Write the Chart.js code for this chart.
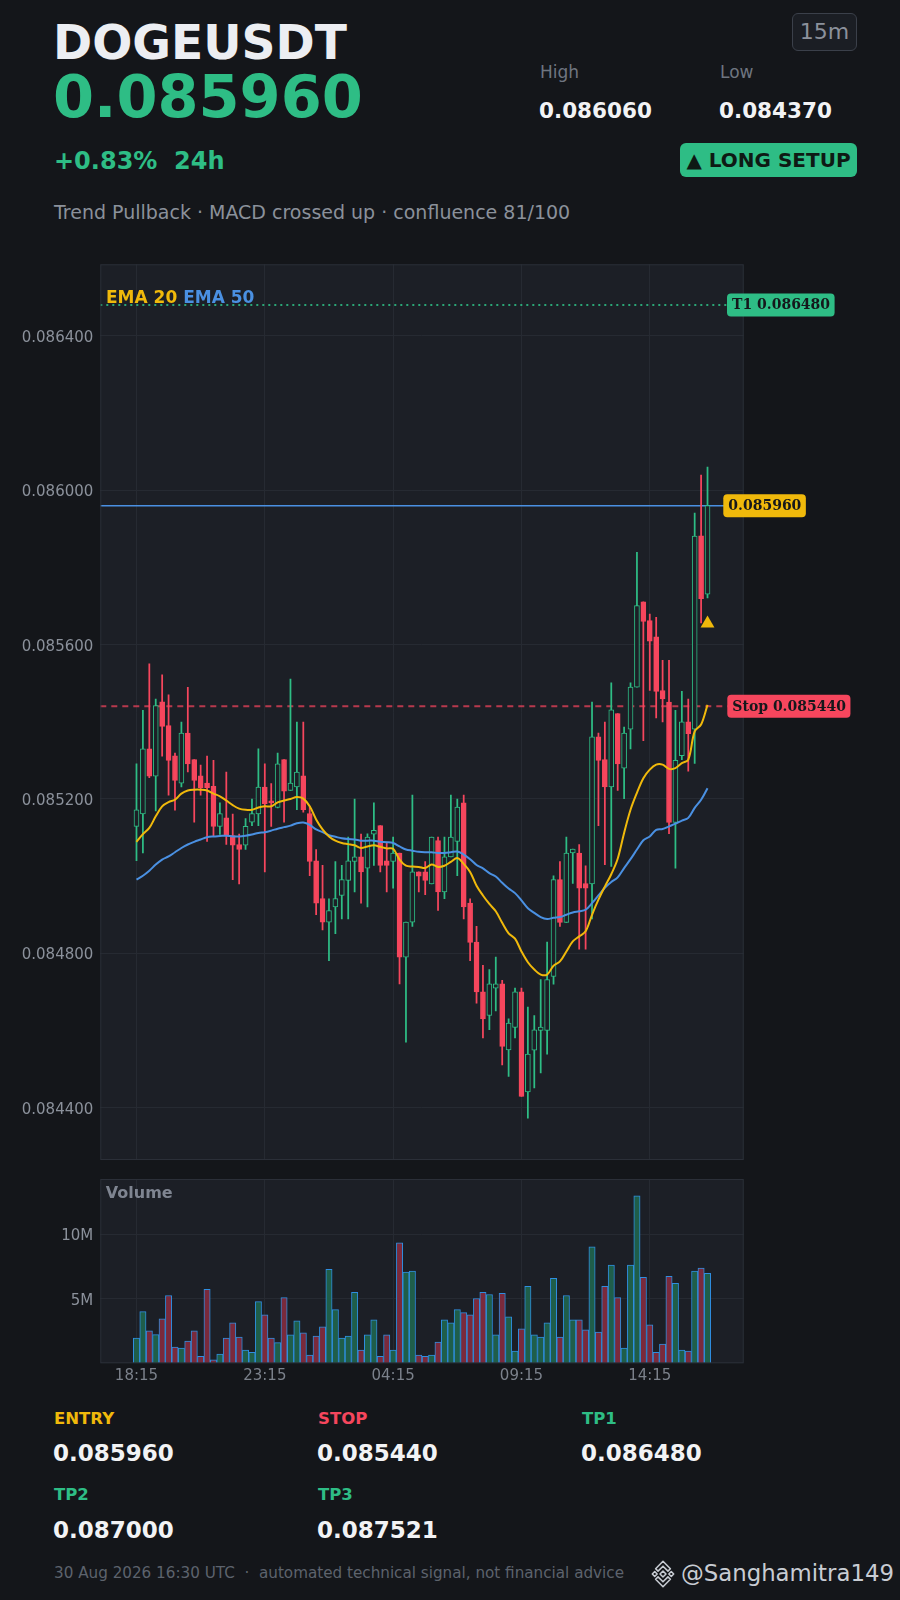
<!DOCTYPE html>
<html><head><meta charset="utf-8">
<script src="https://cdn.jsdelivr.net/npm/chart.js@4.4.1/dist/chart.umd.min.js"></script>
<style>
html,body{margin:0;padding:0;background:#14161a;width:900px;height:1600px;overflow:hidden;font-family:'DejaVu Sans',sans-serif;}
.t{position:absolute;white-space:pre;line-height:1;}
.b{font-weight:bold;}
#pc{position:absolute;left:0;top:250px;}
#vc{position:absolute;left:0;top:1170px;}
.box{position:absolute;box-sizing:border-box;display:flex;align-items:center;justify-content:center;white-space:pre;}
</style></head><body>

<div class="t b" style="left:53px;top:19.4px;font-size:47.2px;color:#eceef2">DOGEUSDT</div>
<div class="t b" style="left:53px;top:66.8px;font-size:59px;color:#2ebd85">0.085960</div>
<div class="t b" style="left:54px;top:149px;font-size:24px;color:#2ebd85">+0.83%  24h</div>
<div class="t" style="left:54px;top:202.9px;font-size:19px;color:#8b919b">Trend Pullback · MACD crossed up · confluence 81/100</div>

<div class="t" style="left:540px;top:63.9px;font-size:17px;color:#6f7580">High</div>
<div class="t" style="left:720px;top:63.9px;font-size:17px;color:#6f7580">Low</div>
<div class="t b" style="left:539px;top:100.1px;font-size:21.5px;color:#f2f3f5">0.086060</div>
<div class="t b" style="left:719px;top:100.1px;font-size:21.5px;color:#f2f3f5">0.084370</div>

<div class="box" style="left:792px;top:13.3px;width:65px;height:37.4px;border:1px solid #3b404a;border-radius:6px;background:#1b1e24;font-size:22px;color:#8b919b;">15m</div>
<div class="box b" style="left:680px;top:143.3px;width:177px;height:34px;border-radius:6px;background:#2ebd85;font-size:20px;color:#0e1a14;">▲ LONG SETUP</div>

<canvas id="pc" width="900" height="920"></canvas>
<canvas id="vc" width="900" height="230"></canvas>

<div class="t b" style="left:54px;top:1411px;font-size:16.5px;color:#f0b90b">ENTRY</div>
<div class="t b" style="left:318px;top:1411px;font-size:16.5px;color:#f6465d">STOP</div>
<div class="t b" style="left:582px;top:1411px;font-size:16.5px;color:#2ebd85">TP1</div>
<div class="t b" style="left:53px;top:1442.2px;font-size:23px;color:#f2f3f5">0.085960</div>
<div class="t b" style="left:317px;top:1442.2px;font-size:23px;color:#f2f3f5">0.085440</div>
<div class="t b" style="left:581px;top:1442.2px;font-size:23px;color:#f2f3f5">0.086480</div>
<div class="t b" style="left:54px;top:1487px;font-size:16.5px;color:#2ebd85">TP2</div>
<div class="t b" style="left:318px;top:1487px;font-size:16.5px;color:#2ebd85">TP3</div>
<div class="t b" style="left:53px;top:1518.8px;font-size:23px;color:#f2f3f5">0.087000</div>
<div class="t b" style="left:317px;top:1518.8px;font-size:23px;color:#f2f3f5">0.087521</div>

<div class="t" style="left:54px;top:1566.3px;font-size:15.2px;color:#5d636d">30 Aug 2026 16:30 UTC  ·  automated technical signal, not financial advice</div>
<svg style="position:absolute;left:649px;top:1560px" width="28" height="28" viewBox="0 0 127 127">
<g fill="none" stroke="#c8ccd3" stroke-width="7" stroke-linejoin="round">
<path d="M63.5 6 L97 39.5 L86 50.5 L63.5 28 L41 50.5 L30 39.5 Z"/>
<path d="M63.5 121 L97 87.5 L86 76.5 L63.5 99 L41 76.5 L30 87.5 Z"/>
<path d="M15 63.5 L26 52.5 L37 63.5 L26 74.5 Z"/>
<path d="M112 63.5 L101 52.5 L90 63.5 L101 74.5 Z"/>
<path d="M63.5 50 L77 63.5 L63.5 77 L50 63.5 Z"/>
</g></svg>
<div class="t" style="left:681px;top:1562px;font-size:22.8px;color:#c8ccd3">@Sanghamitra149</div>

<script>
// ---- data ----
const TIME_TICK_INDEX = [0, 20, 40, 60, 80];
const TIME_TICK_LABELS = ['18:15', '23:15', '04:15', '09:15', '14:15'];
const PRICE_TICKS = [0.0844, 0.0848, 0.0852, 0.0856, 0.0860, 0.0864];
const VOLUME_TICKS = [5, 10];

const OPEN = [0.085129,0.085161,0.085330,0.085259,0.085452,0.085390,0.085312,0.085241,0.085371,0.085302,
0.085260,0.085241,0.085233,0.085129,0.085151,0.085105,0.085082,0.085080,0.085140,0.085161,
0.085231,0.085195,0.085178,0.085302,0.085222,0.085231,0.085260,0.085162,0.085040,0.084942,
0.084881,0.084920,0.084950,0.084989,0.085038,0.085050,0.085021,0.085109,0.085131,0.085040,
0.085038,0.085060,0.084790,0.084881,0.085011,0.085011,0.084980,0.085092,0.084959,0.085050,
0.085090,0.085190,0.084930,0.084829,0.084700,0.084639,0.084710,0.084721,0.084550,0.084608,
0.084700,0.084441,0.084549,0.084600,0.084600,0.084740,0.084991,0.084880,0.085060,0.085060,
0.084981,0.084980,0.085361,0.085302,0.085231,0.085421,0.085280,0.085381,0.085490,0.085711,
0.085662,0.085620,0.085481,0.085451,0.085139,0.085312,0.085400,0.085381,0.085882,0.085731];
const HIGH = [0.085291,0.085430,0.085550,0.085459,0.085522,0.085470,0.085319,0.085399,0.085489,0.085302,
0.085288,0.085311,0.085300,0.085190,0.085270,0.085161,0.085109,0.085149,0.085200,0.085330,
0.085291,0.085240,0.085319,0.085302,0.085511,0.085399,0.085399,0.085181,0.085069,0.085028,
0.084941,0.085038,0.085028,0.085101,0.085200,0.085109,0.085110,0.085190,0.085131,0.085088,
0.085101,0.085060,0.084881,0.085210,0.085011,0.085038,0.085101,0.085101,0.085101,0.085210,
0.085200,0.085210,0.084941,0.084870,0.084769,0.084758,0.084790,0.084730,0.084630,0.084710,
0.084710,0.084661,0.084639,0.084732,0.084829,0.085001,0.085038,0.085101,0.085070,0.085082,
0.085027,0.085451,0.085371,0.085399,0.085501,0.085421,0.085386,0.085501,0.085839,0.085711,
0.085679,0.085671,0.085559,0.085559,0.085430,0.085479,0.085459,0.085941,0.086039,0.086060];
const LOW = [0.085040,0.085060,0.085255,0.085169,0.085311,0.085210,0.085171,0.085231,0.085270,0.085140,
0.085210,0.085090,0.085103,0.085108,0.085082,0.084991,0.084980,0.085069,0.085131,0.085131,
0.085011,0.085129,0.085177,0.085140,0.085222,0.085172,0.085166,0.085001,0.084900,0.084861,
0.084781,0.084851,0.084889,0.084889,0.084959,0.084930,0.084920,0.085028,0.085011,0.084959,
0.084969,0.084721,0.084570,0.084870,0.084959,0.084952,0.084980,0.084911,0.084942,0.085050,
0.085001,0.084889,0.084781,0.084671,0.084581,0.084602,0.084651,0.084511,0.084481,0.084581,
0.084429,0.084373,0.084451,0.084490,0.084539,0.084720,0.084870,0.084880,0.084981,0.084811,
0.084811,0.084889,0.085131,0.085030,0.085025,0.085222,0.085201,0.085330,0.085490,0.085351,
0.085481,0.085410,0.085400,0.085110,0.085021,0.085302,0.085272,0.085292,0.085656,0.085721];
const CLOSE = [0.085172,0.085330,0.085259,0.085442,0.085388,0.085300,0.085248,0.085371,0.085291,0.085248,
0.085229,0.085229,0.085129,0.085162,0.085105,0.085080,0.085069,0.085129,0.085162,0.085231,
0.085188,0.085190,0.085291,0.085220,0.085241,0.085270,0.085172,0.085038,0.084930,0.084881,
0.084911,0.084942,0.084991,0.085040,0.085050,0.085011,0.085101,0.085119,0.085028,0.085028,
0.085060,0.084790,0.084881,0.085011,0.085000,0.084989,0.085101,0.084959,0.085050,0.085101,
0.085179,0.084920,0.084828,0.084700,0.084630,0.084721,0.084721,0.084559,0.084619,0.084700,
0.084429,0.084539,0.084602,0.084609,0.084732,0.084991,0.084880,0.085060,0.085070,0.084969,
0.084969,0.085361,0.085300,0.085231,0.085431,0.085291,0.085371,0.085490,0.085701,0.085660,
0.085609,0.085479,0.085459,0.085139,0.085300,0.085400,0.085369,0.085881,0.085719,0.085960];
const EMA20 = [0.085089,0.085109,0.085125,0.085155,0.085181,0.085192,0.085198,0.085214,0.085222,0.085224,
0.085224,0.085222,0.085214,0.085207,0.085196,0.085184,0.085175,0.085172,0.085172,0.085178,
0.085181,0.085181,0.085191,0.085196,0.085200,0.085205,0.085201,0.085181,0.085147,0.085121,
0.085103,0.085092,0.085086,0.085083,0.085080,0.085073,0.085077,0.085080,0.085076,0.085072,
0.085071,0.085043,0.085027,0.085025,0.085024,0.085021,0.085030,0.085024,0.085027,0.085037,
0.085047,0.085032,0.085011,0.084975,0.084950,0.084928,0.084909,0.084879,0.084852,0.084838,
0.084805,0.084777,0.084758,0.084745,0.084745,0.084768,0.084779,0.084805,0.084831,0.084844,
0.084857,0.084900,0.084939,0.084973,0.085005,0.085045,0.085112,0.085172,0.085216,0.085254,
0.085276,0.085289,0.085289,0.085278,0.085280,0.085293,0.085302,0.085375,0.085393,0.085444];
const EMA50 = [0.084991,0.085001,0.085014,0.085030,0.085043,0.085051,0.085062,0.085073,0.085082,0.085089,
0.085095,0.085101,0.085103,0.085104,0.085105,0.085103,0.085103,0.085105,0.085108,0.085112,
0.085114,0.085118,0.085123,0.085127,0.085131,0.085137,0.085139,0.085133,0.085121,0.085114,
0.085106,0.085102,0.085098,0.085096,0.085095,0.085092,0.085092,0.085092,0.085089,0.085088,
0.085086,0.085077,0.085069,0.085066,0.085063,0.085062,0.085062,0.085060,0.085060,0.085062,
0.085064,0.085056,0.085044,0.085029,0.085020,0.085008,0.084999,0.084983,0.084968,0.084956,
0.084937,0.084917,0.084905,0.084894,0.084889,0.084892,0.084894,0.084900,0.084906,0.084909,
0.084913,0.084930,0.084950,0.084970,0.084985,0.084997,0.085021,0.085044,0.085069,0.085093,
0.085103,0.085120,0.085122,0.085129,0.085136,0.085144,0.085151,0.085177,0.085198,0.085228];
// volume in millions
const VOLUME = [1.96,4.01,2.51,2.23,3.46,5.26,1.26,1.18,1.73,2.51,
0.55,5.73,0.26,0.71,1.96,3.14,2.04,1.02,0.86,4.79,
3.77,1.96,1.60,5.10,2.20,3.30,2.36,0.63,2.12,2.83,
7.30,4.16,1.96,2.12,5.50,1.02,2.20,3.38,0.55,2.20,
1.02,9.35,7.07,7.15,0.63,0.55,0.63,1.65,3.38,3.14,
4.16,3.93,3.77,5.03,5.50,5.34,2.20,5.42,3.61,0.94,
2.67,5.97,2.20,2.04,3.14,6.60,2.04,5.26,3.38,3.38,
2.59,9.03,2.43,5.97,7.62,5.10,1.18,7.62,13.0,6.68,
2.98,0.86,1.49,6.75,6.20,1.02,0.94,7.15,7.38,6.99];
const ENTRY = 0.085960;
const STOP = 0.085440;
const TP1 = 0.086480;
const SIGNAL_MARK = {x: 89, y: 0.085655};

// ---- scale ranges ----
const X_MIN = -5.64, X_MAX = 94.64;
const Y_MIN = 0.0842645, Y_MAX = 0.0865855;
const VOL_MAX = 14.3;

// ---- styles ----
const GREEN = '#2ebd85', RED = '#f6465d', YELLOW = '#f0b90b', BLUE = '#4a90e2';
const PLOT_BG = '#1c1f26', GRID = '#262a32', BORDER = '#2b2f38', TICK = '#8b919b';
const VOL_UP = '#1f5e4a', VOL_DOWN = '#7a2a3c';
Chart.defaults.font.family = "'DejaVu Sans', sans-serif";

const IDX = OPEN.map((_, i) => i);
const isUp = i => CLOSE[i] >= OPEN[i];

function fitY(s){ s.width = 100.3; s.paddingTop = 0; s.paddingBottom = 0; }
function noPadX(s){ s.paddingLeft = 0; s.paddingRight = 0; }

function roundRect(ctx, x, y, w, h, r){
  ctx.beginPath();
  ctx.moveTo(x + r, y); ctx.lineTo(x + w - r, y); ctx.quadraticCurveTo(x + w, y, x + w, y + r);
  ctx.lineTo(x + w, y + h - r); ctx.quadraticCurveTo(x + w, y + h, x + w - r, y + h);
  ctx.lineTo(x + r, y + h); ctx.quadraticCurveTo(x, y + h, x, y + h - r);
  ctx.lineTo(x, y + r); ctx.quadraticCurveTo(x, y, x + r, y);
  ctx.closePath();
}

const bgPlugin = {
  id: 'bgPlugin',
  beforeDraw(chart){
    const {ctx, chartArea: a} = chart;
    ctx.save(); ctx.fillStyle = PLOT_BG;
    ctx.fillRect(a.left, a.top, a.right - a.left, a.bottom - a.top);
    ctx.restore();
  },
  afterDraw(chart){
    const {ctx, chartArea: a} = chart;
    ctx.save(); ctx.strokeStyle = BORDER; ctx.lineWidth = 1;
    ctx.strokeRect(a.left + 0.5, a.top + 0.5, a.right - a.left - 1, a.bottom - a.top - 1);
    ctx.restore();
  }
};

const levelPlugin = {
  id: 'levels',
  beforeDatasetsDraw(chart){
    const {ctx, chartArea: a, scales: {y}} = chart;
    ctx.save();
    let py = y.getPixelForValue(TP1);
    ctx.strokeStyle = 'rgba(46,189,133,0.85)'; ctx.lineWidth = 2; ctx.setLineDash([2, 4]);
    ctx.beginPath(); ctx.moveTo(a.left, py); ctx.lineTo(a.right, py); ctx.stroke();
    py = y.getPixelForValue(STOP);
    ctx.strokeStyle = 'rgba(222,64,88,0.8)'; ctx.lineWidth = 2; ctx.setLineDash([6, 5]);
    ctx.beginPath(); ctx.moveTo(a.left, py); ctx.lineTo(a.right, py); ctx.stroke();
    py = y.getPixelForValue(ENTRY);
    ctx.setLineDash([]); ctx.strokeStyle = BLUE; ctx.lineWidth = 1.6;
    ctx.beginPath(); ctx.moveTo(a.left, py); ctx.lineTo(a.right, py); ctx.stroke();
    ctx.restore();
  },
  afterDraw(chart){
    const {ctx, chartArea: a, scales: {y}} = chart;
    ctx.save();
    const labels = [
      {v: TP1, text: 'T1 ' + TP1.toFixed(6), bg: GREEN, dx: -16.7},
      {v: ENTRY, text: ENTRY.toFixed(6), bg: YELLOW, dx: -20.4},
      {v: STOP, text: 'Stop ' + STOP.toFixed(6), bg: RED, dx: -16.4}
    ];
    ctx.font = "bold 14px 'DejaVu Serif', serif";
    ctx.textBaseline = 'middle';
    labels.forEach(l => {
      const py = y.getPixelForValue(l.v);
      const w = ctx.measureText(l.text).width + 9.5;
      const x = a.right + l.dx;
      ctx.fillStyle = l.bg;
      roundRect(ctx, x, py - 11.5, w, 23, 4); ctx.fill();
      ctx.fillStyle = '#15171b';
      ctx.fillText(l.text, x + 5, py + 0.5);
    });
    ctx.font = "bold 17px 'DejaVu Sans', sans-serif";
    ctx.textBaseline = 'alphabetic';
    ctx.fillStyle = YELLOW; ctx.fillText('EMA 20', 106, 303.3 - 250);
    const w1 = ctx.measureText('EMA 20 ').width;
    ctx.fillStyle = BLUE; ctx.fillText('EMA 50', 106 + w1, 303.3 - 250);
    ctx.restore();
  }
};

new Chart(document.getElementById('pc'), {
  type: 'bar',
  data: {
    datasets: [
      { type: 'bar', label: 'wick', order: 3, grouped: false, barThickness: 1.1,
        data: IDX.map(i => ({x: i, y: [LOW[i], HIGH[i]]})),
        backgroundColor: IDX.map(i => isUp(i) ? GREEN : RED), borderWidth: 0 },
      { type: 'bar', label: 'body', order: 2, grouped: false, barThickness: 5,
        data: IDX.map(i => ({x: i, y: [OPEN[i], CLOSE[i]]})),
        backgroundColor: IDX.map(i => isUp(i) ? PLOT_BG : RED),
        borderColor: IDX.map(i => isUp(i) ? GREEN : RED),
        borderWidth: 1, borderSkipped: false },
      { type: 'line', label: 'EMA 20', order: 1, data: IDX.map(i => ({x: i, y: EMA20[i]})),
        borderColor: YELLOW, borderWidth: 2, pointRadius: 0, tension: 0.35, fill: false },
      { type: 'line', label: 'EMA 50', order: 1, data: IDX.map(i => ({x: i, y: EMA50[i]})),
        borderColor: BLUE, borderWidth: 2, pointRadius: 0, tension: 0.35, fill: false },
      { type: 'scatter', label: 'signal', order: 0, data: [SIGNAL_MARK],
        pointStyle: 'triangle', pointRadius: 8, backgroundColor: YELLOW, borderColor: YELLOW, borderWidth: 0 }
    ]
  },
  options: {
    responsive: false, animation: false, devicePixelRatio: 1,
    layout: {padding: {top: 14.3, bottom: 10, left: 0, right: 156.3}},
    plugins: {legend: {display: false}, tooltip: {enabled: false}},
    scales: {
      x: { type: 'linear', min: X_MIN, max: X_MAX, offset: false,
        afterBuildTicks: s => { s.ticks = TIME_TICK_INDEX.map(v => ({value: v})); },
        afterFit: s => { s.height = 0; noPadX(s); },
        ticks: {display: false}, border: {display: false},
        grid: {color: GRID, drawTicks: false, offset: false} },
      y: { type: 'linear', min: Y_MIN, max: Y_MAX,
        afterBuildTicks: s => { s.ticks = PRICE_TICKS.map(v => ({value: v})); },
        afterFit: fitY,
        ticks: {color: TICK, font: {size: 15}, padding: 7, labelOffset: 2, callback: v => Number(v).toFixed(6)},
        border: {display: false},
        grid: {color: GRID, drawTicks: false} }
    }
  },
  plugins: [bgPlugin, levelPlugin]
});

const volLabelPlugin = {
  id: 'volLabel',
  afterDraw(chart){
    const {ctx} = chart;
    ctx.save();
    ctx.font = "bold 16px 'DejaVu Sans', sans-serif";
    ctx.fillStyle = '#7f8591'; ctx.textBaseline = 'alphabetic';
    ctx.fillText('Volume', 105.8, 1197.7 - 1170);
    ctx.restore();
  }
};

new Chart(document.getElementById('vc'), {
  type: 'bar',
  data: {
    datasets: [{
      data: IDX.map(i => ({x: i, y: VOLUME[i]})),
      backgroundColor: IDX.map(i => isUp(i) ? VOL_UP : VOL_DOWN),
      borderColor: '#2f8ee0', borderWidth: 1, barThickness: 6.3, grouped: false
    }]
  },
  options: {
    responsive: false, animation: false, devicePixelRatio: 1,
    layout: {padding: {top: 9, bottom: 0, left: 0, right: 156.3}},
    plugins: {legend: {display: false}, tooltip: {enabled: false}},
    scales: {
      x: { type: 'linear', min: X_MIN, max: X_MAX, offset: false,
        afterBuildTicks: s => { s.ticks = TIME_TICK_INDEX.map(v => ({value: v})); },
        afterFit: s => { s.height = 36.7; noPadX(s); },
        ticks: {color: '#7b818b', font: {size: 15}, padding: 4, maxRotation: 0,
          callback: v => TIME_TICK_LABELS[TIME_TICK_INDEX.indexOf(v)]},
        border: {display: false},
        grid: {color: GRID, drawTicks: false, offset: false} },
      y: { type: 'linear', min: 0, max: VOL_MAX,
        afterBuildTicks: s => { s.ticks = VOLUME_TICKS.map(v => ({value: v})); },
        afterFit: fitY,
        ticks: {color: TICK, font: {size: 15}, padding: 7, labelOffset: 2, callback: v => v + 'M'},
        border: {display: false},
        grid: {color: GRID, drawTicks: false} }
    }
  },
  plugins: [bgPlugin, volLabelPlugin]
});
</script>
</body></html>
